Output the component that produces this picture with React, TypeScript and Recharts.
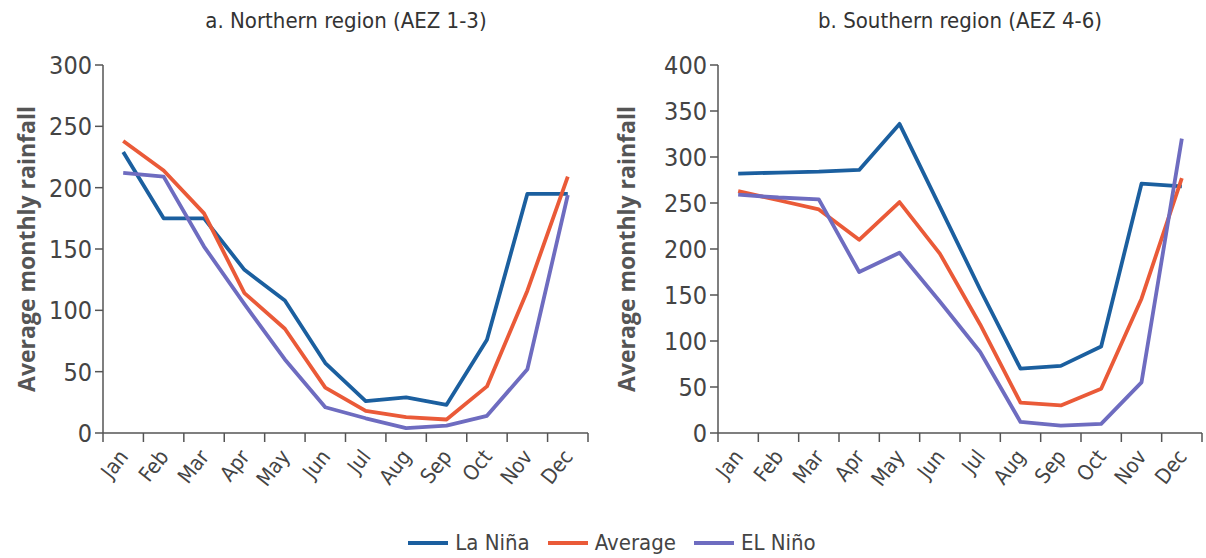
import { LineChart, Line, XAxis, YAxis } from 'recharts'

const months = ['Jan', 'Feb', 'Mar', 'Apr', 'May', 'Jun', 'Jul', 'Aug', 'Sep', 'Oct', 'Nov', 'Dec']

const northLaNina = [229, 175, 175, 133, 108, 57, 26, 29, 23, 76, 195, 195]
const northAverage = [238, 214, 179, 114, 85, 37, 18, 13, 11, 38, 116, 209]
const northElNino = [212, 209, 152, 105, 60, 21, 12, 4, 6, 14, 52, 194]

const southLaNina = [282, 283, 284, 286, 336, 246, 156, 70, 73, 94, 271, 268]
const southAverage = [263, 253, 243, 210, 251, 195, 118, 33, 30, 48, 146, 277]
const southElNino = [259, 256, 254, 175, 196, 143, 88, 12, 8, 10, 55, 320]

const northTicks = [0, 50, 100, 150, 200, 250, 300]
const southTicks = [0, 50, 100, 150, 200, 250, 300, 350, 400]
const monthEdges = [0, 1, 2, 3, 4, 5, 6, 7, 8, 9, 10, 11, 12]

const COLORS = { laNina: '#1b5f9f', average: '#ea5a38', elNino: '#6e6cc0' }
const AXIS = '#555'
const TEXT = '#444'
const NARROW = '"DejaVu Sans Condensed", "Liberation Sans Narrow", sans-serif'

const build = (la: number[], avg: number[], el: number[]) =>
  months.map((m, i) => ({ x: i + 0.5, month: m, laNina: la[i], average: avg[i], elNino: el[i] }))

const northData = build(northLaNina, northAverage, northElNino)
const southData = build(southLaNina, southAverage, southElNino)

function makeXTick(band: number) {
  return function XTick(props: any) {
    const { x, y, payload } = props
    if (payload.value >= 12) return null
    const cx = x + band / 2 + 6
    const cy = y + 13
    return (
      <text
        x={cx}
        y={cy}
        transform={`rotate(-52 ${cx} ${cy})`}
        textAnchor="end"
        fill={TEXT}
        fontSize={21}
        fontFamily={NARROW}
      >
        {months[payload.value]}
      </text>
    )
  }
}

function YTitle(props: any) {
  const { viewBox } = props
  const cx = 26
  const cy = viewBox.y + viewBox.height / 2
  return (
    <text
      x={cx}
      y={cy}
      transform={`rotate(-90 ${cx} ${cy})`}
      textAnchor="middle"
      dominantBaseline="central"
      fill={AXIS}
      fontSize={23}
      fontWeight="bold"
      fontFamily='"Open Sans", sans-serif'
    >
      Average monthly rainfall
    </text>
  )
}

interface PanelProps {
  data: any[]
  ticks: number[]
  max: number
  width: number
  yWidth: number
  right: number
}

function Panel({ data, ticks, max, width, yWidth, right }: PanelProps) {
  const band = (width - yWidth - right) / 12
  return (
    <LineChart width={width} height={510} data={data} margin={{ top: 65, right, left: 0, bottom: 7 }}>
      <XAxis
        dataKey="x"
        type="number"
        domain={[0, 12]}
        ticks={monthEdges}
        interval={0}
        stroke={AXIS}
        strokeWidth={1.5}
        tickSize={9}
        tickMargin={2}
        height={70}
        tick={makeXTick(band)}
      />
      <YAxis
        type="number"
        domain={[0, max]}
        ticks={ticks}
        interval={0}
        width={yWidth}
        stroke={AXIS}
        strokeWidth={1.5}
        tickSize={8}
        tickMargin={3}
        tick={{ fill: TEXT, fontSize: 25, fontFamily: NARROW }}
        label={<YTitle />}
      />
      <Line type="linear" dataKey="laNina" stroke={COLORS.laNina} strokeWidth={3.8} dot={false} isAnimationActive={false} strokeLinejoin="round" />
      <Line type="linear" dataKey="average" stroke={COLORS.average} strokeWidth={3.8} dot={false} isAnimationActive={false} strokeLinejoin="round" />
      <Line type="linear" dataKey="elNino" stroke={COLORS.elNino} strokeWidth={3.8} dot={false} isAnimationActive={false} strokeLinejoin="round" />
    </LineChart>
  )
}

const legendItems = [
  { label: 'La Niña', color: COLORS.laNina },
  { label: 'Average', color: COLORS.average },
  { label: 'EL Niño', color: COLORS.elNino },
]

const titleStyle: React.CSSProperties = {
  position: 'absolute',
  top: 8,
  fontFamily: NARROW,
  fontSize: 22,
  color: '#333',
  textAlign: 'center',
  width: 400,
}

export default function App() {
  return (
    <div style={{ position: 'absolute', left: 0, top: 0, width: 1206, height: 558, background: '#fff' }}>
      <div style={{ ...titleStyle, left: 346 - 200 }}>a. Northern region (AEZ 1-3)</div>
      <div style={{ ...titleStyle, left: 960 - 200 }}>b. Southern region (AEZ 4-6)</div>
      <div style={{ position: 'absolute', left: 0, top: 0 }}>
        <Panel data={northData} ticks={northTicks} max={300} width={600} yWidth={103} right={12} />
      </div>
      <div style={{ position: 'absolute', left: 600, top: 0 }}>
        <Panel data={southData} ticks={southTicks} max={400} width={606} yWidth={118} right={4} />
      </div>
      <div
        style={{
          position: 'absolute',
          top: 530,
          left: 0,
          width: 1206,
          display: 'flex',
          justifyContent: 'center',
          alignItems: 'center',
          fontFamily: NARROW,
          fontSize: 22,
          color: TEXT,
          paddingLeft: 18,
        }}
      >
        {legendItems.map((it) => (
          <div key={it.label} style={{ display: 'flex', alignItems: 'center', marginRight: 18 }}>
            <span style={{ display: 'inline-block', width: 40, height: 4, background: it.color, marginRight: 7 }} />
            <span>{it.label}</span>
          </div>
        ))}
      </div>
    </div>
  )
}
